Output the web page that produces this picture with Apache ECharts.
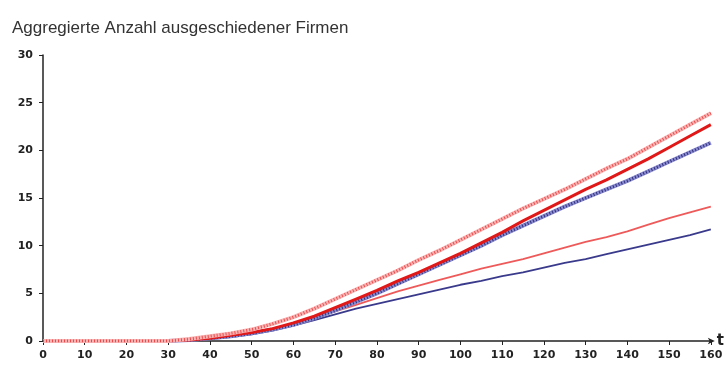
<!DOCTYPE html>
<html><head><meta charset="utf-8">
<script src="https://cdn.jsdelivr.net/npm/echarts@6/dist/echarts.min.js"></script>
<style>html,body{margin:0;padding:0;background:#fff}#c{width:727px;height:374px}</style>
</head><body><div id="c"></div>
<script>
var xValues = [0,5,10,15,20,25,30,35,40,45,50,55,60,65,70,75,80,85,90,95,100,105,110,115,120,125,130,135,140,145,150,155,160];
var upperLight = [0,0,0,0,0,0,0,0.2,0.5,0.8,1.2,1.8,2.5,3.4,4.4,5.4,6.4,7.4,8.5,9.5,10.6,11.7,12.8,13.9,14.9,15.9,17.0,18.1,19.1,20.3,21.5,22.7,23.9];
var darkRed = [0,0,0,0,0,0,0,0.1,0.3,0.6,0.9,1.3,1.9,2.6,3.5,4.4,5.3,6.3,7.2,8.2,9.2,10.3,11.4,12.6,13.7,14.8,15.9,16.9,18.0,19.1,20.3,21.5,22.7];
var blueMarked = [0,0,0,0,0,0,0,0.1,0.3,0.5,0.8,1.2,1.7,2.4,3.2,4.1,5.0,6.0,7.0,8.0,9.0,10.0,11.1,12.1,13.1,14.1,15.0,15.9,16.8,17.8,18.8,19.8,20.8];
var redThin = [0,0,0,0,0,0,0,0.1,0.3,0.5,0.8,1.2,1.7,2.4,3.1,3.8,4.5,5.2,5.8,6.4,7.0,7.6,8.1,8.6,9.2,9.8,10.4,10.9,11.5,12.2,12.9,13.5,14.1];
var blueThin = [0,0,0,0,0,0,0,0.05,0.2,0.4,0.7,1.1,1.6,2.2,2.8,3.4,3.9,4.4,4.9,5.4,5.9,6.3,6.8,7.2,7.7,8.2,8.6,9.1,9.6,10.1,10.6,11.1,11.7];
var titleText = 'Aggregierte Anzahl ausgeschiedener Firmen';
var xName = 't';

function pairs(arr){ return xValues.map(function(x,i){ return [x, arr[i]]; }); }

var chart = echarts.init(document.getElementById('c'), null, {renderer:'canvas'});
var tickFont = {fontFamily:'DejaVu Sans', fontSize:11, color:'#222', fontWeight:'bold'};
chart.setOption({
  animation:false,
  title:{text:titleText,left:7,top:15,textStyle:{fontFamily:'Liberation Sans',fontSize:17,fontWeight:'normal',color:'#333'}},
  grid:{left:43,right:15,top:55,bottom:33},
  xAxis:{type:'value',min:0,max:160,interval:10,name:xName,nameLocation:'end',nameGap:6,
    nameTextStyle:{fontFamily:'DejaVu Sans',fontSize:15,color:'#222',fontWeight:'bold'},
    axisLine:{lineStyle:{color:'#222',width:1.5},symbol:['none','arrow'],symbolSize:[5,7],symbolOffset:[0,4]},
    axisTick:{show:true,inside:false,length:4,lineStyle:{color:'#222'}},
    axisLabel:Object.assign({margin:9},tickFont),splitLine:{show:false}},
  yAxis:{type:'value',min:0,max:30,interval:5,
    axisLine:{show:true,lineStyle:{color:'#222',width:1.5}},
    axisTick:{show:true,length:4,lineStyle:{color:'#222'}},
    axisLabel:Object.assign({margin:10},tickFont),splitLine:{show:false}},
  series:[
    {type:'line',data:pairs(blueThin),showSymbol:false,lineStyle:{color:'#3a3a8c',width:1.8}},
    {type:'line',data:pairs(redThin),showSymbol:false,lineStyle:{color:'#ee5a5a',width:1.8}},
    {type:'line',data:pairs(blueMarked),showSymbol:false,lineStyle:{color:'#8a8ad0',width:4}},
    {type:'line',data:pairs(blueMarked),showSymbol:false,lineStyle:{color:'#30307a',width:3,type:[1,2]}},
    {type:'line',data:pairs(darkRed),showSymbol:false,lineStyle:{color:'#e01818',width:3}},
    {type:'line',data:pairs(upperLight),showSymbol:false,lineStyle:{color:'#f8b4b4',width:4}},
    {type:'line',data:pairs(upperLight),showSymbol:false,lineStyle:{color:'#ec4a4a',width:3,type:[1,2]}}
  ]
});
</script></body></html>
